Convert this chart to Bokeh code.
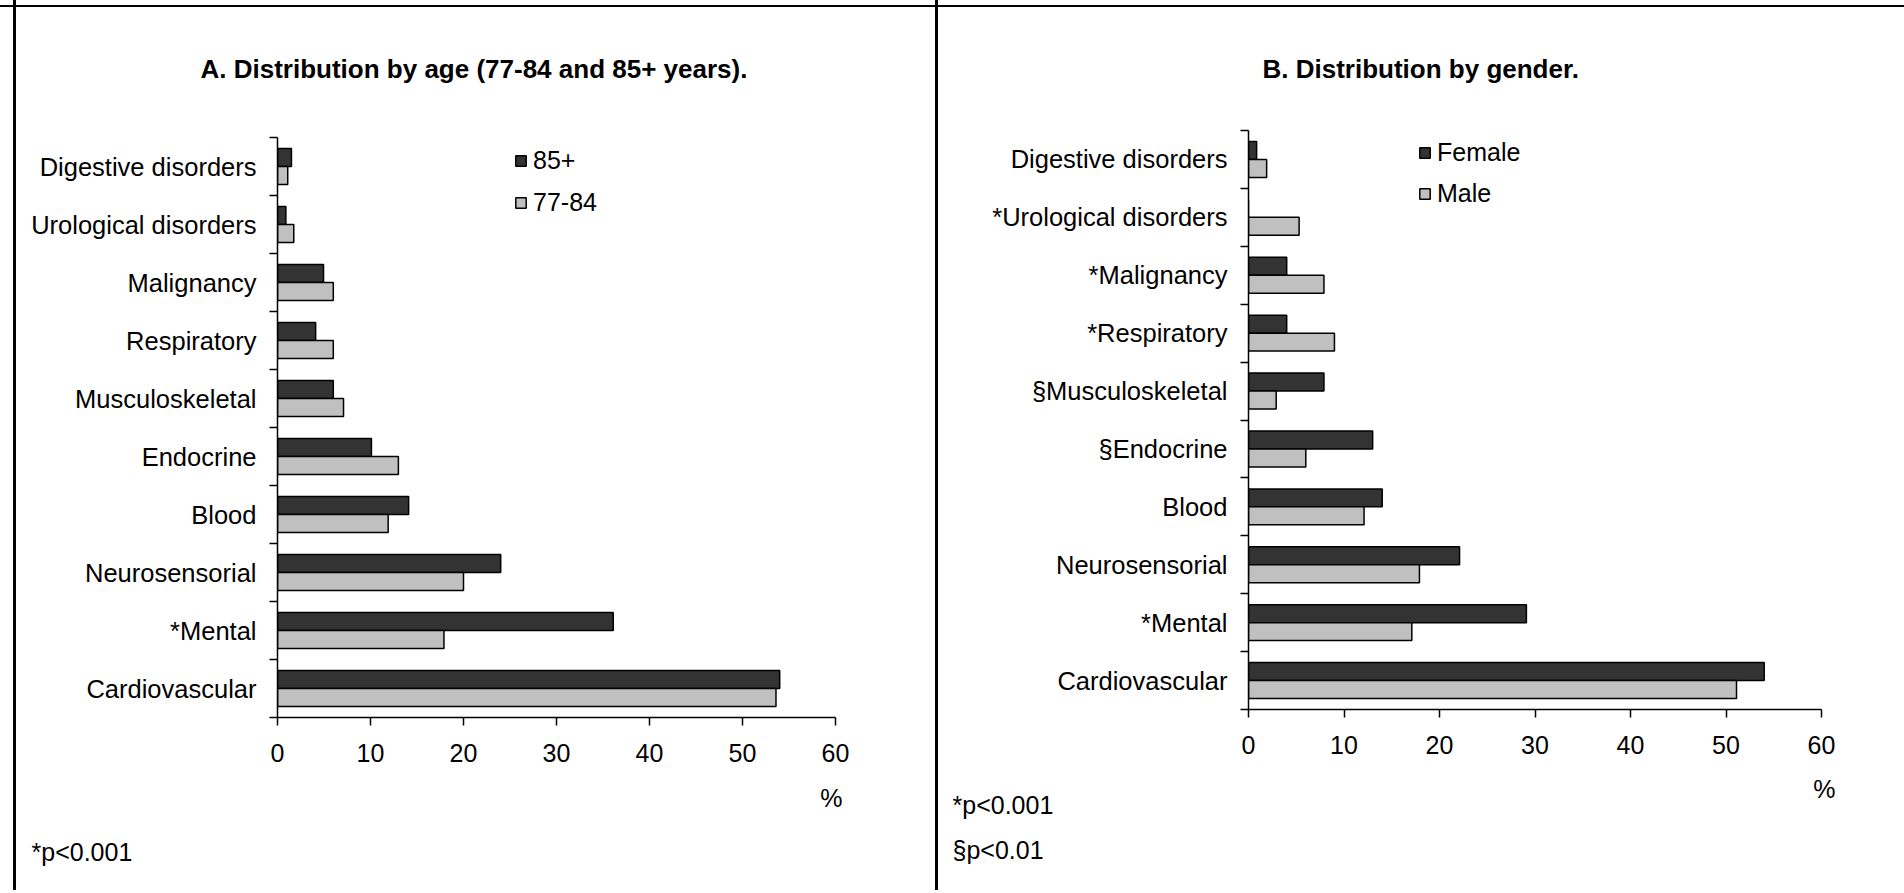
from bokeh.plotting import figure
from bokeh.models import FixedTicker, Legend, LegendItem, Range1d, ColumnDataSource, Title
from bokeh.layouts import row, column
from bokeh.transform import dodge
from bokeh.embed import file_html
from bokeh.resources import INLINE

# ---------------- data ----------------
x_ticks = [0, 10, 20, 30, 40, 50, 60]

categories_a = ["Cardiovascular", "*Mental", "Neurosensorial", "Blood", "Endocrine",
                "Musculoskeletal", "Respiratory", "Malignancy", "Urological disorders",
                "Digestive disorders"]
age_85_plus = [54.0, 36.1, 24.0, 14.1, 10.1, 6.0, 4.1, 4.95, 0.9, 1.5]
age_77_84 = [53.6, 17.9, 20.0, 11.9, 13.0, 7.1, 6.0, 6.0, 1.75, 1.1]
series_a = ["85+", "77-84"]

categories_b = ["Cardiovascular", "*Mental", "Neurosensorial", "Blood", "§Endocrine",
                "§Musculoskeletal", "*Respiratory", "*Malignancy", "*Urological disorders",
                "Digestive disorders"]
female = [54.0, 29.1, 22.1, 14.0, 13.0, 7.9, 4.0, 4.0, 0.0, 0.85]
male = [51.1, 17.1, 17.9, 12.1, 6.0, 2.9, 9.0, 7.9, 5.3, 1.9]
series_b = ["Female", "Male"]

FONT = "Liberation Sans"
DARK = "#333333"
LIGHT = "#c0c0c0"
FIG_H = 890


def make_title(text, align, offset, standoff, size="25px", bold=False):
    return Title(text=text, align=align, offset=offset, standoff=standoff,
                 vertical_align="top", text_font=FONT, text_font_size=size,
                 text_font_style="bold" if bold else "normal", text_color="black")


def panel(cats, s1, s2, names, g):
    left_page = g["page_left"]
    W = g["width"]
    fl, fr, ft, fb = g["frame"]
    p = figure(width=W, height=FIG_H,
               x_range=Range1d(0, 60), y_range=Range1d(-0.5, 9.5),
               output_backend="svg", toolbar_location=None,
               min_border_left=fl - left_page,
               min_border_right=left_page + W - fr,
               min_border_top=ft,
               min_border_bottom=FIG_H - fb,
               background_fill_color=None, border_fill_color=None,
               outline_line_color=None)
    p.styles = {"background": g["bg"]}
    p.grid.visible = False

    ys = list(range(len(cats)))
    src = ColumnDataSource(dict(y=ys, s1=s1, s2=s2))
    bh = 0.31
    r1 = p.hbar(y=dodge("y", bh / 2, range=p.y_range), left=0, right="s1", height=bh,
                source=src, fill_color=DARK, line_color="black", line_width=1.5)
    r2 = p.hbar(y=dodge("y", -bh / 2, range=p.y_range), left=0, right="s2", height=bh,
                source=src, fill_color=LIGHT, line_color="black", line_width=1.5)

    # axes
    xa = p.xaxis[0]
    xa.ticker = FixedTicker(ticks=x_ticks)
    xa.major_tick_out = 8
    xa.major_tick_in = 0
    xa.minor_tick_out = 0
    xa.minor_tick_in = 0
    xa.axis_line_width = 1.5
    xa.major_tick_line_width = 1.5
    xa.axis_line_color = "black"
    xa.major_tick_line_color = "black"
    xa.major_label_standoff = 18
    xa.major_label_text_font = FONT
    xa.major_label_text_font_size = "25px"
    xa.major_label_text_color = "black"

    ya = p.yaxis[0]
    ya.ticker = FixedTicker(ticks=ys, minor_ticks=[i - 0.5 for i in range(len(cats) + 1)])
    ya.major_label_overrides = {i: c for i, c in enumerate(cats)}
    ya.major_tick_out = 0
    ya.major_tick_in = 0
    ya.minor_tick_out = 8
    ya.minor_tick_in = 0
    ya.minor_tick_line_color = "black"
    ya.minor_tick_line_width = 1.5
    ya.axis_line_width = 1.5
    ya.axis_line_color = "black"
    ya.major_label_standoff = 13
    ya.major_label_text_font = FONT
    ya.major_label_text_font_size = "25.5px"
    ya.major_label_text_color = "black"

    # legend
    lx, ly1, ly2 = g["legend"]
    lh = 30
    spacing = (ly2 - ly1) - lh
    top = ly1 - lh / 2
    bottom = top + 2 * lh + spacing
    legend = Legend(items=[LegendItem(label=names[0], renderers=[r1]),
                           LegendItem(label=names[1], renderers=[r2])],
                    location=(lx - fl, fb - bottom),
                    padding=0, spacing=spacing, border_line_color=None,
                    background_fill_alpha=0, glyph_width=13, glyph_height=13,
                    label_height=lh, label_standoff=6,
                    label_text_font=FONT, label_text_font_size="25px",
                    label_text_color="black")
    p.add_layout(legend)

    # title above, texts below
    p.add_layout(make_title(g["title"], "left", g["title_offset"], g["title_standoff"],
                            size="26px", bold=True), "above")
    for text, align, off, so in g["below"]:
        p.add_layout(make_title(text, align, off, so), "below")
    return p


geom_a = dict(page_left=0, width=935, frame=(277, 835, 137, 717),
              bg="linear-gradient(#000,#000) 13px 0/3px 100% no-repeat, "
                 "linear-gradient(#000,#000) 0 5px/100% 2px no-repeat",
              legend=(514, 160, 202),
              title="A. Distribution by age (77-84 and 85+ years).",
              title_offset=-77, title_standoff=104,
              below=[("%", "right", -7, 39),
                     ("*p<0.001", "left", -246, 9)])
geom_b = dict(page_left=935, width=969, frame=(1248, 1821, 130, 709),
              bg="linear-gradient(#000,#000) 0 0/3px 100% no-repeat, "
                 "linear-gradient(#000,#000) 0 5px/100% 2px no-repeat",
              legend=(1418, 152, 193),
              title="B. Distribution by gender.",
              title_offset=14, title_standoff=90,
              below=[("%", "right", -14, 37),
                     ("§p<0.01", "left", -296, 25),
                     ("*p<0.001", "left", -296, -176)])

pa = panel(categories_a, age_85_plus, age_77_84, series_a, geom_a)
pb = panel(categories_b, female, male, series_b, geom_b)

layout = row(column(pa), column(pb), spacing=0)
open("out.html", "w").write(file_html(layout, INLINE))
